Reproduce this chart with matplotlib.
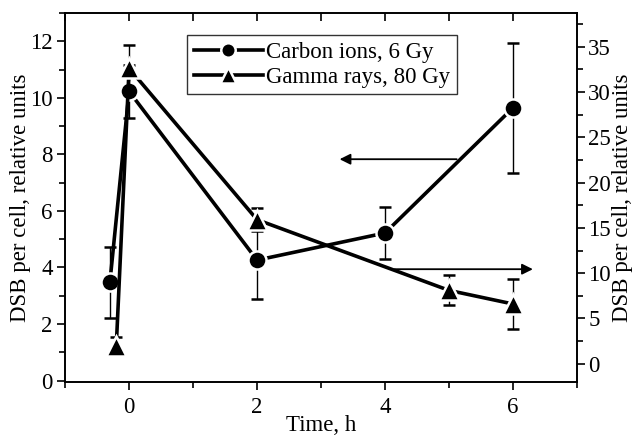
import matplotlib
matplotlib.use("Agg")
import matplotlib.pyplot as plt
from matplotlib.ticker import MultipleLocator

plt.rcParams["font.family"] = ["Liberation Serif", "DejaVu Serif"]

# Carbon ions, 6 Gy (left axis)
carbon_t = [-0.3, 0, 2, 4, 6]
carbon_dsb = [3.47, 10.23, 4.26, 5.22, 9.65]
carbon_err = [1.26, 0.93, 1.36, 0.93, 2.3]

# Gamma rays, 80 Gy (right axis)
gamma_t = [-0.2, 0, 2, 5, 6]
gamma_dsb = [2.0, 32.6, 15.9, 8.1, 6.6]
gamma_err = [0.95, 2.6, 1.3, 1.65, 2.8]

FS = 16.5

fig = plt.figure(figsize=(6.32, 4.36), dpi=100)
ax = fig.add_axes([0.103, 0.124, 0.810, 0.846])
ax2 = ax.twinx()

c = ax.errorbar(carbon_t, carbon_dsb, yerr=carbon_err, color="black", lw=2.6,
                marker="o", ms=13, mec="white", mew=1.8, ecolor="black",
                elinewidth=1, capsize=4, capthick=1, zorder=3)
g = ax2.errorbar(gamma_t, gamma_dsb, yerr=gamma_err, color="black", lw=2.6,
                 marker="^", ms=14, mec="white", mew=1.8, ecolor="black",
                 elinewidth=1, capsize=4, capthick=1, zorder=3)

ax.set_xlim(-1, 7)
ax.set_ylim(-0.05, 13)
ax2.set_ylim(-2, 38.7)

ax.xaxis.set_major_locator(MultipleLocator(2))
ax.xaxis.set_minor_locator(MultipleLocator(1))
ax.yaxis.set_major_locator(MultipleLocator(2))
ax.yaxis.set_minor_locator(MultipleLocator(1))
ax2.yaxis.set_major_locator(MultipleLocator(5))
ax2.yaxis.set_minor_locator(MultipleLocator(2.5))

for a in (ax, ax2):
    a.tick_params(axis="both", which="both", labelsize=FS, width=1.2,
                  direction="out", pad=3)
    a.tick_params(which="major", length=6)
    a.tick_params(which="minor", length=4)
    for s in a.spines.values():
        s.set_linewidth(1.2)
ax.tick_params(axis="x", which="both", top=True, pad=5)
ax2.tick_params(axis="y", pad=2)
# top ticks point inward
for t in ax.xaxis.get_major_ticks() + ax.xaxis.get_minor_ticks():
    t.tick2line.set_marker(3)
    t.tick2line.set_markersize(6)

ax.set_xlabel("Time, h", fontsize=FS, labelpad=-2)
ax.set_ylabel("DSB per cell, relative units", fontsize=FS)
ax2.set_ylabel("DSB per cell, relative units", fontsize=FS)
ax.yaxis.set_label_coords(-0.066, 0.5)
ax2.yaxis.set_label_coords(1.068, 0.5)

# arrows pointing to the axis each series belongs to
ax.annotate("", xy=(3.29, 7.83), xytext=(5.12, 7.83),
            arrowprops=dict(arrowstyle="-|>", color="black", lw=1.3,
                            mutation_scale=16, shrinkA=0, shrinkB=0))
ax2.annotate("", xy=(6.31, 10.44), xytext=(4.15, 10.44),
             arrowprops=dict(arrowstyle="-|>", color="black", lw=1.3,
                             mutation_scale=16, shrinkA=0, shrinkB=0))

leg = ax.legend([c[0], g[0]], ["Carbon ions, 6 Gy", "Gamma rays, 80 Gy"],
                loc="upper left", bbox_to_anchor=(0.238, 0.94), fontsize=FS,
                frameon=True, fancybox=False, edgecolor="black",
                handlelength=3.0, handletextpad=0.15, borderpad=0.3,
                labelspacing=0.15, borderaxespad=0, markerscale=0.8)
leg.get_frame().set_linewidth(1.0)

fig.savefig("out.png", dpi=100)
